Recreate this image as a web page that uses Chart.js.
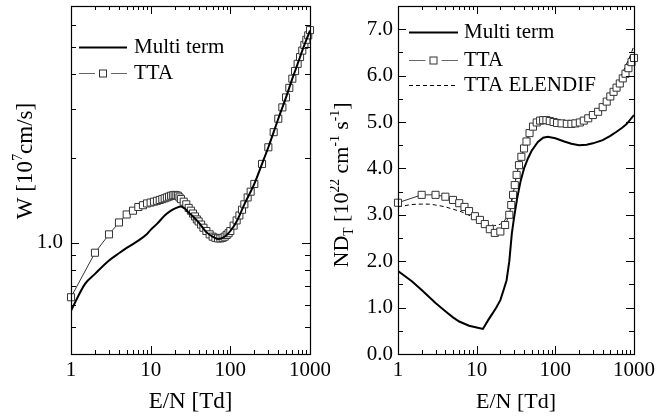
<!DOCTYPE html>
<html>
<head>
<meta charset="utf-8">
<script src="https://cdn.jsdelivr.net/npm/chart.js@4.4.0/dist/chart.umd.min.js"></script>
<style>
  html, body { margin: 0; padding: 0; background: #fff; }
  #wrap { position: relative; width: 656px; height: 418px; }
  canvas { position: absolute; top: 0; }
</style>
</head>
<body>
<div id="wrap">
  <canvas id="leftChart" width="330" height="418" style="left:0"></canvas>
  <canvas id="rightChart" width="326" height="418" style="left:330px"></canvas>
</div>
<script>
// ---- data (E/N in Td) ----
const xTickValues = [1, 2, 3, 4, 5, 6, 7, 8, 9, 10, 20, 30, 40, 50, 60, 70, 80, 90, 100,
  200, 300, 400, 500, 600, 700, 800, 900, 1000];

// left panel: drift velocity W [10^7 cm/s]
const wTickValues = [0.5, 0.6, 0.7, 0.8, 0.9, 1, 2, 3, 4, 5, 6];
const wMultiE = [1, 1.5, 2, 3, 4, 5, 7, 9, 10, 12, 15, 18, 21, 24, 27, 30, 35, 40, 45, 50,
  60, 70, 80, 90, 100, 120, 150, 200, 250, 300, 400, 500, 600, 700, 800, 900, 1000];
const wMulti = [0.571, 0.712, 0.773, 0.863, 0.916, 0.957, 1.016, 1.074, 1.11, 1.166, 1.249, 1.30,
  1.33, 1.345, 1.32, 1.28, 1.23, 1.18, 1.13, 1.09, 1.05, 1.03, 1.04, 1.065, 1.10, 1.19, 1.37,
  1.62, 1.91, 2.19, 2.77, 3.3, 3.85, 4.35, 4.85, 5.3, 5.72];
const wTtaE = [1, 2, 3, 4, 5, 6, 7, 8, 9, 10, 11, 12, 13, 14, 15, 16, 17, 18, 19, 20, 21, 22, 23,
  24, 26, 28, 30, 32, 34, 36, 38, 40, 43, 46, 50, 55, 60, 65, 70, 75, 80, 85, 90, 95, 100, 110,
  120, 130, 140, 150, 165, 180, 200, 250, 300, 350, 400, 450, 500, 550, 600, 650, 700, 750,
  800, 850, 900, 950, 1000];
const wTta = [0.638, 0.92, 1.07, 1.18, 1.26, 1.30, 1.34, 1.36, 1.38, 1.39, 1.40, 1.41, 1.42,
  1.43, 1.44, 1.45, 1.46, 1.47, 1.475, 1.48, 1.475, 1.47, 1.45, 1.43, 1.40, 1.37, 1.33, 1.30,
  1.27, 1.24, 1.21, 1.19, 1.16, 1.13, 1.10, 1.07, 1.05, 1.04, 1.035, 1.035, 1.04, 1.05, 1.065,
  1.08, 1.10, 1.15, 1.20, 1.25, 1.31, 1.37, 1.45, 1.52, 1.62, 1.91, 2.19, 2.48, 2.77, 3.04,
  3.3, 3.57, 3.85, 4.1, 4.35, 4.6, 4.85, 5.08, 5.3, 5.5, 5.74];

// right panel: ND_T [10^22 cm^-1 s^-1]
const ndTickValues = [0, 0.5, 1, 1.5, 2, 2.5, 3, 3.5, 4, 4.5, 5, 5.5, 6, 6.5, 7, 7.5];
const ndMultiE = [1, 1.5, 2, 3, 4, 5, 6, 8, 10, 12, 14, 16, 18, 20, 22, 24, 26, 28, 30, 33, 36,
  40, 45, 50, 60, 70, 80, 100, 130, 160, 200, 250, 300, 400, 500, 600, 700, 800, 1000];
const ndMulti = [1.79, 1.57, 1.38, 1.10, 0.92, 0.79, 0.70, 0.61, 0.57, 0.54, 0.73, 0.88, 1.02,
  1.16, 1.38, 1.59, 2.0, 2.6, 2.96, 3.39, 3.71, 4.0, 4.22, 4.38, 4.57, 4.66, 4.68, 4.65, 4.58,
  4.53, 4.50, 4.51, 4.54, 4.61, 4.70, 4.79, 4.87, 4.95, 5.15];
const ndTtaE = [1, 2, 3, 4, 5, 6, 7, 8, 9.5, 11, 12.7, 14.7, 17, 20, 23, 26, 27.5, 29, 30.5,
  32.2, 34.5, 37, 40, 43, 47, 52, 58, 64, 70, 77, 85, 95, 105, 120, 140, 160, 180, 205, 230,
  262, 300, 350, 400, 450, 500, 550, 600, 660, 720, 780, 850, 930, 1000];
const ndTta = [3.26, 3.43, 3.43, 3.39, 3.32, 3.25, 3.17, 3.08, 2.97, 2.89, 2.80, 2.69, 2.61,
  2.64, 2.78, 3.0, 3.21, 3.43, 3.64, 3.86, 4.07, 4.25, 4.43, 4.58, 4.76, 4.90, 4.99, 5.03, 5.04,
  5.04, 5.02, 5.0, 4.98, 4.97, 4.96, 4.96, 4.97, 4.99, 5.03, 5.08, 5.15, 5.22, 5.32, 5.44,
  5.55, 5.65, 5.74, 5.83, 5.94, 6.04, 6.16, 6.29, 6.38];
const ndElenE = [1, 1.5, 2, 2.5, 3, 4, 5, 6.5, 8, 9.5, 12, 15, 17, 20, 22, 24, 26, 28, 30, 33,
  36, 40, 45, 50, 60, 70, 80, 100, 150, 200, 300, 400, 500, 600, 700, 800, 900, 1000];
const ndElen = [3.17, 3.22, 3.23, 3.23, 3.21, 3.17, 3.12, 3.06, 2.99, 2.92, 2.84, 2.79, 2.77,
  2.80, 2.85, 2.95, 3.1, 3.35, 3.62, 3.95, 4.2, 4.43, 4.67, 4.85, 5.0, 5.04, 5.04, 5.0, 4.96,
  4.99, 5.17, 5.37, 5.6, 5.82, 6.03, 6.24, 6.44, 6.64];

const FONT = '"Liberation Serif", "Times New Roman", serif';
Chart.defaults.font.family = FONT;
Chart.defaults.color = '#000';

const toPoints = (xs, ys) => xs.map((x, i) => ({ x, y: ys[i] }));

// inward tick marks on all four sides plus the frame
const frameTicks = {
  id: 'frameTicks',
  afterDatasetsDraw(chart, args, opts) {
    const { ctx, chartArea: a, scales } = chart;
    ctx.save();
    ctx.strokeStyle = '#000';
    ctx.lineWidth = 1;
    ctx.beginPath();
    scales.x.ticks.forEach(t => {
      const px = Math.round(scales.x.getPixelForValue(t.value)) + 0.5;
      const len = Number.isInteger(Math.log10(t.value)) ? 8 : 4;
      ctx.moveTo(px, a.bottom); ctx.lineTo(px, a.bottom - len);
      ctx.moveTo(px, a.top); ctx.lineTo(px, a.top + len);
    });
    scales.y.ticks.forEach(t => {
      const py = Math.round(scales.y.getPixelForValue(t.value)) + 0.5;
      const len = opts.isMajor(t.value) ? 8 : 5;
      ctx.moveTo(a.left, py); ctx.lineTo(a.left + len, py);
      ctx.moveTo(a.right, py); ctx.lineTo(a.right - len, py);
    });
    ctx.stroke();
    ctx.lineWidth = 1.2;
    ctx.strokeRect(Math.round(a.left) + 0.5, Math.round(a.top) + 0.5,
      Math.round(a.right - a.left), Math.round(a.bottom - a.top));
    ctx.restore();
  }
};

// text with super/subscripts, rotated for y titles
function drawRich(ctx, parts, size) {
  let w = 0;
  parts.forEach(p => {
    ctx.font = (p.s ? size * 0.62 : size) + 'px ' + FONT;
    p.w = ctx.measureText(p.t).width;
    w += p.w;
  });
  let x = -w / 2;
  parts.forEach(p => {
    ctx.font = (p.s ? size * 0.62 : size) + 'px ' + FONT;
    const dy = p.s === 1 ? -size * 0.42 : p.s === -1 ? size * 0.22 : 0;
    ctx.fillText(p.t, x, dy);
    x += p.w;
  });
}

const titles = {
  id: 'titles',
  afterDraw(chart, args, opts) {
    const { ctx, chartArea: a } = chart;
    ctx.save();
    ctx.fillStyle = '#000';
    ctx.textBaseline = 'alphabetic';
    ctx.textAlign = 'left';
    ctx.save();
    ctx.translate(opts.yx, opts.yc);
    ctx.rotate(-Math.PI / 2);
    drawRich(ctx, opts.yParts, opts.size);
    ctx.restore();
    ctx.translate((a.left + a.right) / 2, opts.xy);
    drawRich(ctx, [{ t: 'E/N [Td]' }], opts.size);
    ctx.restore();
  }
};

// legend drawn inside the plot area
const insideLegend = {
  id: 'insideLegend',
  afterDraw(chart, args, opts) {
    const { ctx, chartArea: a } = chart;
    ctx.save();
    opts.items.forEach(it => {
      const ds = chart.data.datasets[it.index];
      const x0 = a.left + opts.x0, x1 = a.left + opts.x1, y = it.y + 0.5;
      ctx.strokeStyle = it.color || ds.borderColor;
      ctx.lineWidth = ds.borderWidth;
      ctx.setLineDash(ds.borderDash || []);
      ctx.beginPath();
      if (ds.pointRadius > 0) {
        const cx = (x0 + x1) / 2;
        ctx.moveTo(x0, y); ctx.lineTo(cx - 8, y);
        ctx.moveTo(cx + 8, y); ctx.lineTo(x1, y);
        ctx.stroke();
        ctx.fillStyle = '#fff';
        ctx.strokeStyle = ds.pointBorderColor;
        ctx.fillRect(cx - 3.5, y - 3.5, 7, 7);
        ctx.strokeRect(cx - 3.5, y - 3.5, 7, 7);
      } else {
        ctx.moveTo(x0, y); ctx.lineTo(x1, y);
        ctx.stroke();
      }
      ctx.setLineDash([]);
      ctx.fillStyle = '#000';
      ctx.font = '21px ' + FONT;
      ctx.textBaseline = 'middle';
      ctx.fillText(ds.label, a.left + opts.tx, y);
    });
    ctx.restore();
  }
};

function xScale() {
  return {
    type: 'logarithmic',
    min: 1,
    max: 1000,
    afterBuildTicks: s => { s.ticks = xTickValues.map(v => ({ value: v })); },
    afterFit: s => { s.height = 64; s.paddingLeft = 0; s.paddingRight = 0; },
    grid: { display: false, drawTicks: false },
    border: { display: false },
    ticks: {
      autoSkip: false,
      maxRotation: 0,
      padding: 4,
      font: { size: 21 },
      callback: v => (Number.isInteger(Math.log10(v)) ? String(v) : '')
    }
  };
}

const ttaStyle = {
  borderColor: '#333',
  borderWidth: 1,
  pointStyle: 'rect',
  pointRadius: 5,
  pointBorderWidth: 1,
  pointBorderColor: '#333',
  pointBackgroundColor: '#fff',
  tension: 0,
  clip: 8
};

new Chart(document.getElementById('leftChart'), {
  type: 'line',
  data: {
    datasets: [
      { label: 'Multi term', data: toPoints(wMultiE, wMulti), borderColor: '#000', borderWidth: 2,
        pointRadius: 0, cubicInterpolationMode: 'monotone' },
      Object.assign({ label: 'TTA', data: toPoints(wTtaE, wTta) }, ttaStyle)
    ]
  },
  options: {
    responsive: false,
    animation: false,
    devicePixelRatio: 1,
    layout: { padding: { left: 0, right: 20, top: 5, bottom: 0 } },
    plugins: {
      legend: { display: false },
      tooltip: { enabled: false },
      frameTicks: { isMajor: v => v === 1 },
      titles: { size: 23, yx: 32, yc: 161, xy: 408,
        yParts: [{ t: 'W [10' }, { t: '7', s: 1 }, { t: 'cm/s]' }] },
      insideLegend: { x0: 8, x1: 56, tx: 63,
        items: [{ index: 0, y: 47 }, { index: 1, y: 73, color: '#666' }] }
    },
    scales: {
      x: xScale(),
      y: {
        type: 'logarithmic',
        min: 0.4,
        max: 7,
        afterBuildTicks: s => { s.ticks = wTickValues.map(v => ({ value: v })); },
        afterFit: s => { s.width = 71; s.paddingTop = 0; s.paddingBottom = 0; },
        grid: { display: false, drawTicks: false },
        border: { display: false },
        ticks: { autoSkip: false, padding: 8, font: { size: 21 },
          callback: v => (v === 1 ? '1.0' : '') }
      }
    }
  },
  plugins: [frameTicks, titles, insideLegend]
});

new Chart(document.getElementById('rightChart'), {
  type: 'line',
  data: {
    datasets: [
      { label: 'Multi term', data: toPoints(ndMultiE, ndMulti), borderColor: '#000', borderWidth: 2,
        pointRadius: 0, tension: 0 },
      Object.assign({ label: 'TTA', data: toPoints(ndTtaE, ndTta) }, ttaStyle),
      { label: 'TTA ELENDIF', data: toPoints(ndElenE, ndElen), borderColor: '#000', borderWidth: 1,
        borderDash: [4, 3], pointRadius: 0, cubicInterpolationMode: 'monotone' }
    ]
  },
  options: {
    responsive: false,
    animation: false,
    devicePixelRatio: 1,
    layout: { padding: { left: 0, right: 22, top: 5, bottom: 0 } },
    plugins: {
      legend: { display: false },
      tooltip: { enabled: false },
      frameTicks: { isMajor: v => Number.isInteger(v) },
      titles: { size: 22, yx: 18, yc: 185, xy: 408,
        yParts: [{ t: 'ND' }, { t: 'T', s: -1 }, { t: ' [10' }, { t: '22', s: 1 }, { t: ' cm' },
          { t: '-1', s: 1 }, { t: ' s' }, { t: '-1', s: 1 }, { t: ']' }] },
      insideLegend: { x0: 11, x1: 60, tx: 66,
        items: [{ index: 0, y: 32 }, { index: 1, y: 60, color: '#666' }, { index: 2, y: 85 }] }
    },
    scales: {
      x: xScale(),
      y: {
        type: 'linear',
        min: 0,
        max: 7.5,
        afterBuildTicks: s => { s.ticks = ndTickValues.map(v => ({ value: v })); },
        afterFit: s => { s.width = 68; s.paddingTop = 0; s.paddingBottom = 0; },
        grid: { display: false, drawTicks: false },
        border: { display: false },
        ticks: { autoSkip: false, padding: 5, font: { size: 21 },
          callback: v => (Number.isInteger(v) ? v.toFixed(1) : '') }
      }
    }
  },
  plugins: [frameTicks, titles, insideLegend]
});
</script>
</body>
</html>
